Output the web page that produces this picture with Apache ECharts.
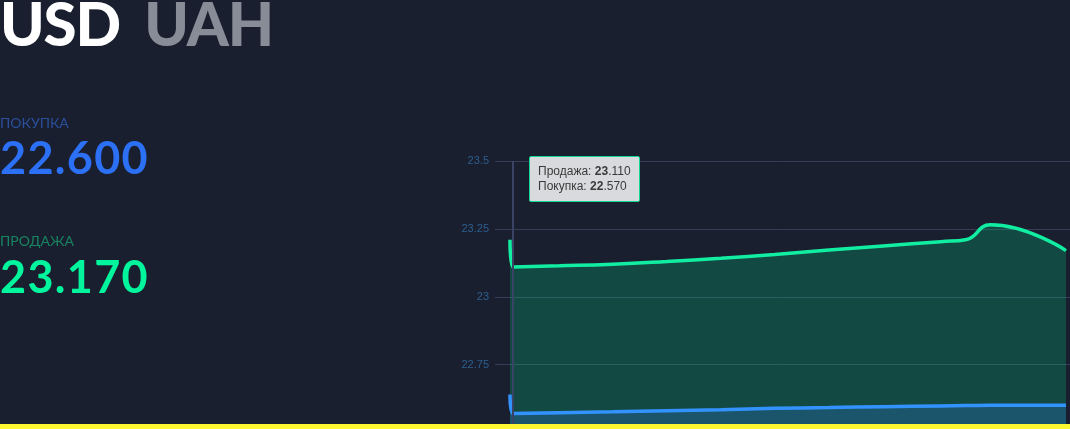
<!DOCTYPE html>
<html>
<head>
<meta charset="utf-8">
<script src="https://cdn.jsdelivr.net/npm/echarts@6/dist/echarts.min.js"></script>
<style>
  html, body { margin: 0; padding: 0; width: 1070px; height: 429px; overflow: hidden; background: #1a1f2f; }
  #chart { position: absolute; left: 0; top: 0; width: 1070px; height: 460px; }
  .t { position: absolute; left: 0; line-height: 1; font-family: Lato, 'Noto Sans', sans-serif; white-space: nowrap; }
  #head { top: -7px; font-size: 60px; font-weight: 900; letter-spacing: -1.2px; }
  #head .base { color: #ffffff; }
  #head .quote { color: #878c96; margin-left: 24.5px; }
  #buyLbl { top: 116px; font-size: 14px; color: #2a4f9b; }
  #buyVal { top: 135px; font-size: 45px; color: #2b70f5; font-weight: bold; letter-spacing: 1.3px; }
  #sellLbl { top: 234px; font-size: 14px; color: #17855f; }
  #sellVal { top: 254px; font-size: 45px; color: #00f59d; font-weight: bold; letter-spacing: 1.3px; }
  #bar { position: absolute; left: 0; top: 424px; width: 1070px; height: 5px; background: #fdf732; }
</style>
</head>
<body>
<div id="chart"></div>
<div class="t" id="head"><span class="base">USD</span><span class="quote">UAH</span></div>
<div class="t" id="buyLbl">ПОКУПКА</div>
<div class="t" id="buyVal">22.600</div>
<div class="t" id="sellLbl">ПРОДАЖА</div>
<div class="t" id="sellVal">23.170</div>
<div id="bar"></div>
<script>
// ---- data ----
const times = [
  '2020-03-01 00:00', '2020-03-01 04:00', '2020-03-03 16:00', '2020-03-06 13:00',
  '2020-03-09 11:00', '2020-03-12 09:00', '2020-03-15 07:00', '2020-03-18 05:00',
  '2020-03-21 03:00', '2020-03-24 06:00', '2020-03-25 14:00', '2020-03-26 22:00',
  '2020-03-31 00:00'
];
const sellValues = [23.21, 23.11, 23.114, 23.12, 23.13, 23.142, 23.156, 23.172, 23.187, 23.203, 23.21, 23.265, 23.17];
const buyValues  = [22.64, 22.57, 22.573, 22.576, 22.58, 22.584, 22.589, 22.592, 22.595, 22.598, 22.599, 22.60, 22.60];
const seriesNames = ['Продажа', 'Покупка'];
const yTicks = { min: 22.5, max: 23.5, interval: 0.25 };

const chart = echarts.init(document.getElementById('chart'), null, { renderer: 'canvas' });
const HOUR = 3600 * 1000;

function fmt(v) {
  const s = v.toFixed(3);
  const parts = s.split('.');
  return '<b>' + parts[0] + '</b>.' + parts[1];
}

chart.setOption({
  animation: false,
  backgroundColor: 'transparent',
  grid: { left: 495, right: 0, top: 161, bottom: 27.5 },
  xAxis: {
    type: 'time',
    show: false,
    min: function (v) { return v.min - 19.4 * HOUR; },
    max: function (v) { return v.max + 5.2 * HOUR; },
    splitLine: { show: false }
  },
  yAxis: {
    type: 'value',
    min: yTicks.min, max: yTicks.max, interval: yTicks.interval,
    axisLine: { show: false },
    axisTick: { show: false },
    axisLabel: { color: '#2d5f8e', fontSize: 11, margin: 6, fontFamily: 'Liberation Sans, Arial, sans-serif' },
    splitLine: { lineStyle: { color: '#373d58', width: 1 } }
  },
  tooltip: {
    trigger: 'axis',
    triggerOn: 'none',
    alwaysShowContent: true,
    transitionDuration: 0,
    backgroundColor: '#d9dadd',
    borderColor: '#10d994',
    borderWidth: 1,
    padding: [7, 8],
    extraCssText: 'box-shadow:none;border-radius:2px;line-height:15px;',
    textStyle: { color: '#3a3a3a', fontSize: 12, fontFamily: 'Liberation Sans, Arial, sans-serif' },
    position: function () { return [529, 156]; },
    axisPointer: { type: 'line', lineStyle: { color: '#3a4266', width: 2, type: 'solid' } },
    formatter: function (params) {
      return params.map(function (p) { return p.seriesName + ': ' + fmt(p.value[1]); }).join('<br/>');
    }
  },
  series: [
    {
      name: seriesNames[0],
      type: 'line',
      smooth: true,
      showSymbol: false,
      symbol: 'none',
      data: times.map(function (t, i) { return [t, sellValues[i]]; }),
      lineStyle: { color: '#10d994', width: 3.5 },
      itemStyle: { color: '#10d994' },
      areaStyle: { color: 'rgba(0,188,119,0.35)', origin: 'start' },
      z: 2
    },
    {
      name: seriesNames[1],
      type: 'line',
      smooth: true,
      showSymbol: false,
      symbol: 'none',
      data: times.map(function (t, i) { return [t, buyValues[i]]; }),
      lineStyle: { color: '#2e86f0', width: 3.5 },
      itemStyle: { color: '#2e86f0' },
      areaStyle: { color: 'rgba(50,119,233,0.3)', origin: 'start' },
      z: 3
    }
  ]
});

chart.dispatchAction({ type: 'showTip', seriesIndex: 0, dataIndex: 1 });
</script>
</body>
</html>
